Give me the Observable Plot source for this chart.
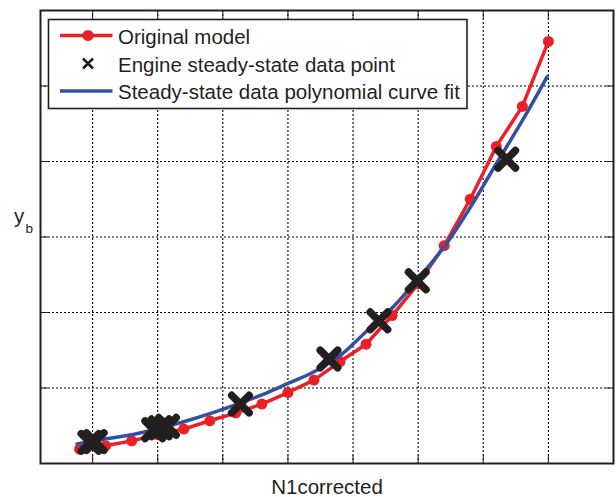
<!DOCTYPE html>
<html>
<head>
<meta charset="utf-8">
<script src="https://cdn.jsdelivr.net/npm/d3@7"></script>
<script src="https://cdn.jsdelivr.net/npm/@observablehq/plot@0.6"></script>
<style>
  body { margin: 0; background: #fff; }
  #wrap { position: relative; width: 616px; height: 497px; font-family: "Liberation Sans", Arial, sans-serif; }
  #overlay { position: absolute; left: 0; top: 0; pointer-events: none; }
</style>
</head>
<body>
<div id="wrap"></div>
<script>
// ---- data ----
const xTicks = [30, 40, 50, 60, 70, 80, 90, 100];
const yTicks = [0, 1, 2, 3, 4, 5, 6];

const modelN1 = [28, 32, 36, 40, 44, 48, 52, 56, 60, 64, 68, 72, 76, 80, 84, 88, 92, 96, 100];
const modelY  = [0.19, 0.235, 0.30, 0.38, 0.456, 0.566, 0.67, 0.787, 0.94, 1.105, 1.35, 1.58, 1.96, 2.38, 2.885, 3.50, 4.20, 4.73, 5.59];

const fitN1 = [27.6, 32, 36, 40, 44, 48, 52, 56, 60, 64, 68, 72, 76, 80, 84, 88, 92, 96, 99.8];
const fitY  = [0.26, 0.327, 0.38, 0.46, 0.553, 0.66, 0.78, 0.91, 1.06, 1.215, 1.43, 1.745, 2.06, 2.45, 2.87, 3.39, 3.97, 4.54, 5.12];

const engineN1 = [29.6, 30.4, 39.4, 40.4, 41.5, 52.7, 66.3, 73.97, 79.86, 93.6];
const engineY  = [0.28, 0.29, 0.447, 0.473, 0.493, 0.787, 1.384, 1.89, 2.42, 4.03];

const seriesNames = ["Original model", "Engine steady-state data point", "Steady-state data polynomial curve fit"];
const xLabel = "N1corrected";

const RED = "#ec1f27";
const BLUE = "#3150a2";
const INK = "#231f20";

const model = modelN1.map((x, i) => ({x, y: modelY[i]}));
const fit = fitN1.map((x, i) => ({x, y: fitY[i]}));
const engine = engineN1.map((x, i) => ({x, y: engineY[i]}));

const chart = Plot.plot({
  width: 616,
  height: 497,
  marginLeft: 40,
  marginRight: 3,
  marginTop: 10,
  marginBottom: 34,
  style: { fontFamily: "Liberation Sans, Arial, sans-serif", background: "#fff", color: INK },
  x: { domain: [22, 110], label: null },
  y: { domain: [0, 6], label: null },
  marks: [
    Plot.gridX(xTicks, { stroke: "#000", strokeOpacity: 1, strokeWidth: 1.1, strokeDasharray: "2,2" }),
    Plot.gridY(yTicks.slice(1, -1), { stroke: "#000", strokeOpacity: 1, strokeWidth: 1.1, strokeDasharray: "2,2" }),
    Plot.axisX(xTicks, { anchor: "bottom", tickSize: -8, tickFormat: () => "", stroke: INK, label: null }),
    Plot.axisX(xTicks, { anchor: "top", tickSize: -8, tickFormat: () => "", stroke: INK, label: null }),
    Plot.axisY(yTicks, { anchor: "left", tickSize: -8, tickFormat: () => "", stroke: INK, label: null }),
    Plot.axisY(yTicks, { anchor: "right", tickSize: -8, tickFormat: () => "", stroke: INK, label: null }),
    Plot.line(model, { x: "x", y: "y", stroke: RED, strokeWidth: 3.5 }),
    Plot.dot(model, { x: "x", y: "y", r: 5.5, fill: RED }),
    Plot.line(fit, { x: "x", y: "y", stroke: BLUE, strokeWidth: 3.5, curve: "catmull-rom" }),
    Plot.dot(engine, { x: "x", y: "y", symbol: "times", r: 8, stroke: INK, strokeWidth: 7.5, strokeLinecap: "round" }),
    Plot.frame({ stroke: INK, strokeWidth: 2 }),
    Plot.text([xLabel], { frameAnchor: "bottom", dy: 30, fontSize: 20.5, fill: INK, text: d => d })
  ]
});

const wrap = document.getElementById("wrap");
wrap.appendChild(chart);

// overlay: legend (inside the frame) and y label with subscript
const ns = "http://www.w3.org/2000/svg";
const ov = document.createElementNS(ns, "svg");
ov.setAttribute("id", "overlay");
ov.setAttribute("width", 616);
ov.setAttribute("height", 497);
ov.innerHTML = `
  <g font-family="Liberation Sans, Arial, sans-serif" fill="${INK}">
    <text x="14" y="222.5" font-size="20.5">y<tspan x="25.5" y="233" font-size="13.5">b</tspan></text>
  </g>
  <g font-family="Liberation Sans, Arial, sans-serif" font-size="20.5" fill="${INK}">
    <rect x="48.5" y="19.5" width="418.5" height="89" fill="#fff" stroke="${INK}" stroke-width="1.6"></rect>
    <line x1="60" x2="112.5" y1="35.5" y2="35.5" stroke="${RED}" stroke-width="3.5"></line>
    <circle cx="88" cy="35.5" r="5.5" fill="${RED}"></circle>
    <path d="M83,58.5 L93,68.5 M93,58.5 L83,68.5" stroke="${INK}" stroke-width="2.6" fill="none"></path>
    <line x1="60" x2="112.5" y1="91" y2="91" stroke="${BLUE}" stroke-width="3.5"></line>
    <text x="118" y="44">${seriesNames[0]}</text>
    <text x="118" y="71.5">${seriesNames[1]}</text>
    <text x="118" y="99">${seriesNames[2]}</text>
  </g>`;
wrap.appendChild(ov);
</script>
</body>
</html>
